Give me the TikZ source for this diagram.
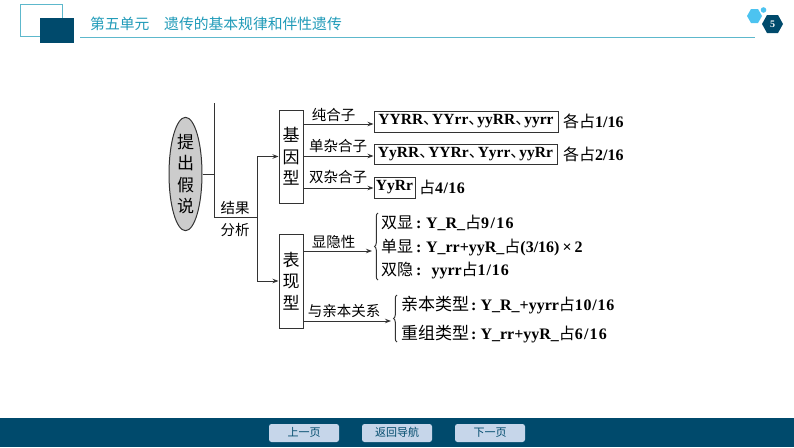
\documentclass[tikz,border=0pt]{standalone}
\usepackage{fontspec}
\setmainfont{Liberation Serif}[BoldFont={Liberation Serif Bold}]
\newfontfamily\cjk{Noto Sans CJK SC}
\newcommand{\Z}[1]{{\mdseries\cjk #1}}
\newcommand{\ZZ}[1]{{\mdseries\fontsize{17}{18}\selectfont\cjk #1}}
\newcommand{\dun}{\makebox[9pt][l]{\mdseries\cjk 、}}
\newcommand{\num}[2]{{\addfontfeature{LetterSpace=#1}#2}}
\newcommand{\low}[1]{\raisebox{-1.5pt}{#1}}
\usetikzlibrary{arrows.meta,decorations.pathreplacing,calc,shapes.geometric}
\definecolor{deep}{HTML}{004A6C}
\definecolor{rulecol}{HTML}{5DB8CC}
\definecolor{titlecol}{HTML}{1F9AB8}
\definecolor{hexlight}{HTML}{4CC3F0}
\definecolor{btn}{HTML}{C6D6EA}
\definecolor{ink}{HTML}{333333}
\tikzset{
  x=1pt,y=-1pt,
  conn/.style={draw=ink,line width=1pt},
  arr/.style={conn,-{Stealth[length=6pt,width=4.5pt]}},
  tbox/.style={draw=ink,line width=1pt,fill=white,inner sep=0pt,font=\fontsize{17}{21.5}\selectfont\cjk,align=center},
  gbox/.style={draw=ink,line width=1pt,inner sep=0pt,font=\fontsize{15.5}{16}\selectfont\bfseries},
  lab/.style={inner sep=0pt,anchor=base,font=\fontsize{14.5}{16}\selectfont\cjk},
  body/.style={inner sep=0pt,anchor=base west,font=\fontsize{16}{18}\selectfont\bfseries},
  navbtn/.style={fill=btn,rounded corners=2.5pt,minimum width=70pt,minimum height=18pt,inner sep=0pt,text height=8.5pt,text depth=1.5pt,text=deep,font=\fontsize{11}{12}\selectfont\cjk},
  brace/.style={draw=ink,line width=1pt,decorate,decoration={brace,amplitude=3.5pt,mirror,raise=0pt}},
}
\begin{document}
\begin{tikzpicture}
\useasboundingbox (0,0) rectangle (794,447);
% header
\draw[rulecol,line width=0.8pt] (20.5,4.5) rectangle (62.5,36);
\fill[deep] (40,18) rectangle (74,43);
\draw[rulecol,line width=0.9pt] (80,37) -- (755,37);
\node[inner sep=0pt,anchor=base west,text=titlecol,font=\fontsize{14.8}{16}\selectfont\cjk] (title) at (90,29) {第五单元\hspace{14.8pt}遗传的基本规律和伴性遗传};
\fill[hexlight] (747,16) -- (751,9) -- (758,9) -- (762,16) -- (758,23) -- (751,23) -- cycle;
\fill[hexlight] (763.5,10) circle (2.8);
\fill[deep] (762,24) -- (767,15) -- (778,15) -- (783,24) -- (778,33) -- (767,33) -- cycle;
\node[text=white,inner sep=0pt,font=\fontsize{10}{10}\selectfont\bfseries] (pageno) at (772.5,24) {5};
% footer
\fill[deep] (0,418) rectangle (794,447);
\node[navbtn] (prev) at (304,433) {上一页};
\node[navbtn] (home) at (397,433) {返回导航};
\node[navbtn] (next) at (490,433) {下一页};
% main nodes
\node[draw=ink,line width=1pt,fill=black!20,ellipse,minimum width=33pt,minimum height=106pt,inner sep=0pt,font=\fontsize{17}{21.5}\selectfont\cjk,align=center] (hyp) at (185.5,174) {提\\出\\假\\说};
\coordinate (spT) at (214,103);
\coordinate (spM) at (214,174);
\coordinate (spB) at (214,217);
\coordinate (fork) at (257,217);
\node[tbox,minimum width=24pt,minimum height=93pt] (geno) at (291,156.5) {基\\因\\型};
\node[tbox,minimum width=24pt,minimum height=94pt] (pheno) at (291,281) {表\\现\\型};
\node[lab] (res1) at (235,213) {结果};
\node[lab] (res2) at (235,235) {分析};
\draw[conn] (hyp.east) -- (spM);
\draw[conn] (spT) -- (spB) -- (fork);
\draw[arr] (fork) |- (geno.west);
\draw[arr] (fork) |- (pheno.west);
% genotype
\node[gbox,minimum width=184pt,minimum height=21pt] (g1) at (466,121.5) {\low{YYRR\dun YYrr\dun yyRR\dun yyrr}};
\node[gbox,minimum width=183pt,minimum height=20pt] (g2) at (465.5,154) {\low{YyRR\dun YYRr\dun Yyrr\dun yyRr}};
\node[gbox,minimum width=41pt,minimum height=21pt] (g3) at (394.5,187.5) {\low{YyRr}};
\coordinate (gA) at (303,124); \coordinate (gB) at (303,156); \coordinate (gC) at (303,188);
\draw[arr] (gA) -- (gA -| g1.west);
\draw[arr] (gB) -- (gB -| g2.west);
\draw[arr] (gC) -- (gC -| g3.west);
\node[lab] (l1) at (333.5,120) {纯合子};
\node[lab] (l2) at (338,151) {单杂合子};
\node[lab] (l3) at (338,182) {双杂合子};
\node[body] (t1) at (563,127) {\Z{各占}1/16};
\node[body] (t2) at (563,160) {\Z{各占}2/16};
\node[body] (t3) at (419,193) {\Z{占}\num{2.5}{4/16}};
% phenotype
\coordinate (pA) at (303,251); \coordinate (pB) at (303,321);
\coordinate (br1) at (372,251); \coordinate (br2) at (391,321);
\draw[arr] (pA) -- (br1);
\draw[arr] (pB) -- (br2);
\node[lab] (l4) at (333.5,247) {显隐性};
\node[lab] (l5) at (344,316) {与亲本关系};
\draw[brace] (378,213) -- (378,280);
\draw[brace] (397,295) -- (397,342);
\node[body] (s1) at (381,228) {\Z{双显}\hspace{3pt}:\hspace{4.5pt}Y\_R\_\Z{占}\num{8.5}{9/16}};
\node[body] (s2) at (381,252) {\Z{单显}\hspace{3pt}:\hspace{4.5pt}Y\_rr+yyR\_\Z{占}(3/16)\hspace{3pt}×\hspace{3pt}2};
\node[body] (s3) at (381,275) {\Z{双隐}\hspace{3pt}:\hspace{10pt}yyrr\Z{占}\num{5.5}{1/16}};
\node[body] (s4) at (401,310) {\ZZ{亲本类型}\hspace{2pt}:\hspace{4pt}Y\_R\_+yyrr\Z{占}\num{4.5}{10/16}};
\node[body] (s5) at (401,339) {\ZZ{重组类型}\hspace{2pt}:\hspace{4pt}Y\_rr+yyR\_\Z{占}\num{7}{6/16}};
\end{tikzpicture}
\end{document}
